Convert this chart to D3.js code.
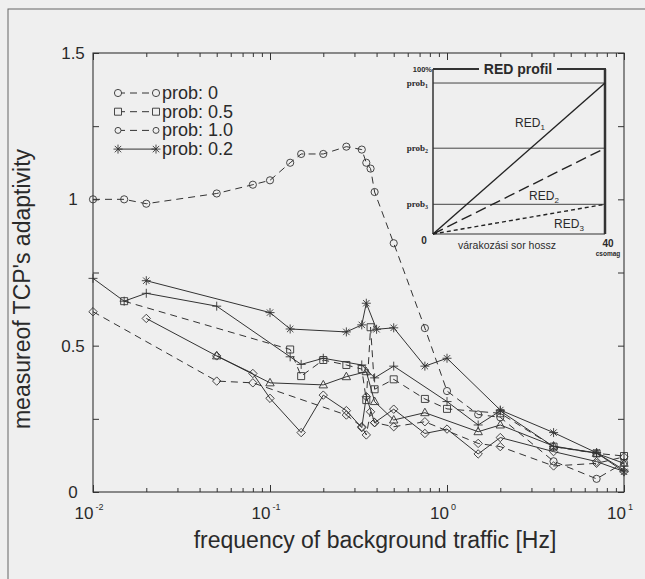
<!DOCTYPE html>
<html>
<head>
<meta charset="utf-8">
<script src="https://cdnjs.cloudflare.com/ajax/libs/d3/7.8.5/d3.min.js"></script>
<style>
    body { margin: 0; background: #efefef; }
    svg { display: block; font-family: "Liberation Sans", Arial, sans-serif; }
</style>
</head>
<body>
<svg id="chart" width="645" height="579"></svg>
<script>
// axis ticks
const xMajorTicks = [0.01, 0.1, 1, 10];
const xMajorExp = ["-2", "-1", "0", "1"];
const yTicks = [0, 0.25, 0.5, 0.75, 1, 1.25, 1.5];
const yLabelTicks = [0, 0.5, 1, 1.5];
const yLabelTexts = ["0", "0.5", "1", "1.5"];

// series (frequency in Hz, adaptivity measure)
const prob0Freq = [0.01, 0.015, 0.02, 0.05, 0.08, 0.1, 0.13, 0.15, 0.2, 0.27, 0.33, 0.35, 0.37, 0.39, 0.5, 0.75, 1.0, 1.5, 2, 4, 7, 10];
const prob0Val  = [1.0, 1.0, 0.985, 1.02, 1.05, 1.065, 1.125, 1.155, 1.155, 1.18, 1.17, 1.125, 1.105, 1.025, 0.85, 0.56, 0.345, 0.265, 0.255, 0.105, 0.045, 0.1];

const prob05Freq = [0.015, 0.13, 0.15, 0.2, 0.27, 0.33, 0.35, 0.37, 0.39, 0.5, 0.75, 1.0, 2, 4, 7, 10];
const prob05Val  = [0.652, 0.487, 0.396, 0.451, 0.434, 0.42, 0.314, 0.563, 0.351, 0.385, 0.318, 0.284, 0.269, 0.155, 0.132, 0.123];

const prob10Freq = [0.01, 0.05, 0.08, 0.27, 0.33, 0.35, 0.37, 0.39, 0.5, 0.75, 1.5, 2, 4, 7, 10];
const prob10Val  = [0.616, 0.379, 0.373, 0.263, 0.223, 0.195, 0.274, 0.237, 0.223, 0.24, 0.166, 0.155, 0.089, 0.098, 0.12];

const prob02Freq = [0.02, 0.1, 0.13, 0.27, 0.33, 0.35, 0.4, 0.5, 0.75, 1.0, 2, 4, 7, 10];
const prob02Val  = [0.722, 0.613, 0.557, 0.547, 0.571, 0.645, 0.556, 0.561, 0.43, 0.457, 0.28, 0.203, 0.134, 0.069];

const plusFreq = [0.01, 0.015, 0.02, 0.05, 0.13, 0.15, 0.2, 0.33, 0.39, 0.5, 1.0, 1.5, 2, 4, 7, 10];
const plusVal  = [0.73, 0.652, 0.679, 0.635, 0.462, 0.436, 0.457, 0.434, 0.39, 0.43, 0.309, 0.229, 0.277, 0.155, 0.134, 0.075];

const triFreq = [0.05, 0.1, 0.2, 0.27, 0.35, 0.39, 0.5, 0.75, 1.5, 2, 4, 7, 10];
const triVal  = [0.465, 0.373, 0.366, 0.394, 0.411, 0.309, 0.246, 0.271, 0.206, 0.229, 0.157, 0.132, 0.098];

const diaFreq = [0.02, 0.05, 0.08, 0.1, 0.15, 0.2, 0.27, 0.33, 0.35, 0.39, 0.5, 0.75, 1.0, 1.5, 2, 4, 7, 10];
const diaVal  = [0.593, 0.465, 0.405, 0.32, 0.203, 0.331, 0.278, 0.22, 0.326, 0.237, 0.283, 0.2, 0.215, 0.13, 0.186, 0.138, 0.104, 0.07];

const legendLabels = ["prob: 0", "prob: 0.5", "prob: 1.0", "prob: 0.2"];

// inset: RED profile
const insetQueueMax = 40;
const insetLevels = [91.5, 52, 18];          // drop probability (%) at full queue
const insetLevelNames = ["1", "2", "3"];
const insetCurveNames = ["1", "2", "3"];

const ink = "#333";
const svg = d3.select("#chart");

const x = d3.scaleLog().domain([0.01, 10]).range([93, 624]);
const y = d3.scaleLinear().domain([0, 1.5]).range([492, 53]);

// outer frame of the scanned page
svg.append("rect").attr("x", 8).attr("y", 9).attr("width", 700).attr("height", 700)
    .attr("fill", "none").attr("stroke", "#666").attr("stroke-width", 1);

// axes box and ticks
const minorX = [];
for (let e = -2; e < 1; e++) for (let k = 2; k <= 9; k++) minorX.push(k * Math.pow(10, e));

const gAxes = svg.append("g").attr("stroke", ink).attr("fill", "none");
gAxes.append("rect").attr("x", x(0.01)).attr("y", y(1.5))
    .attr("width", x(10) - x(0.01)).attr("height", y(0) - y(1.5)).attr("stroke-width", 1.1);

gAxes.append("g").attr("transform", `translate(0,${y(0)})`)
    .call(d3.axisBottom(x).tickValues(minorX).tickSize(-4).tickFormat(""));
gAxes.append("g").attr("transform", `translate(0,${y(0)})`)
    .call(d3.axisBottom(x).tickValues(xMajorTicks).tickSize(-7).tickFormat(""));
gAxes.append("g").attr("transform", `translate(0,${y(1.5)})`)
    .call(d3.axisTop(x).tickValues(minorX).tickSize(-4).tickFormat(""));
gAxes.append("g").attr("transform", `translate(0,${y(1.5)})`)
    .call(d3.axisTop(x).tickValues(xMajorTicks).tickSize(-7).tickFormat(""));
gAxes.append("g").attr("transform", `translate(${x(0.01)},0)`)
    .call(d3.axisLeft(y).tickValues(yTicks).tickSize(-6).tickFormat(""));
gAxes.append("g").attr("transform", `translate(${x(10)},0)`)
    .call(d3.axisRight(y).tickValues(yTicks).tickSize(-6).tickFormat(""));
gAxes.selectAll(".domain").remove();
gAxes.selectAll(".tick line").attr("stroke", ink);

// tick labels
const txt = "#2a2a2a";
yLabelTicks.forEach((v, i) => {
    svg.append("text").attr("x", 73).attr("y", y(v) + 6)
        .attr("text-anchor", "middle").attr("font-size", 17).attr("fill", txt)
        .text(yLabelTexts[i]);
});
xMajorTicks.forEach((v, i) => {
    const t = svg.append("text").attr("x", x(v) - 4).attr("y", 519)
        .attr("text-anchor", "middle").attr("font-size", 17).attr("fill", txt);
    t.append("tspan").text("10");
    t.append("tspan").attr("dy", -9).attr("dx", 2).attr("font-size", 9).text(xMajorExp[i]);
});

svg.append("text").attr("x", 375).attr("y", 548).attr("text-anchor", "middle")
    .attr("font-size", 23).attr("fill", txt).text("frequency of background traffic [Hz]");
svg.append("text").attr("transform", "translate(30,289) rotate(-90)").attr("text-anchor", "middle")
    .attr("font-size", 23).attr("fill", txt).text("measureof TCP's adaptivity");

// markers
const markerPath = {
    circle: "M3.6,0A3.6,3.6 0 1,1 -3.6,0A3.6,3.6 0 1,1 3.6,0Z",
    smallCircle: "M3,0A3,3 0 1,1 -3,0A3,3 0 1,1 3,0Z",
    square: "M-3.5,-3.5H3.5V3.5H-3.5Z",
    diamond: "M0,-4.2L4.2,0L0,4.2L-4.2,0Z",
    triangle: "M0,-4.5L4.2,3L-4.2,3Z",
    plus: "M-4.5,0H4.5M0,-4.5V4.5",
    star: "M-4.5,0H4.5M0,-4.5V4.5M-3.2,-3.2L3.2,3.2M-3.2,3.2L3.2,-3.2"
};

const series = [
    { freq: prob0Freq,  val: prob0Val,  marker: "circle",   dash: "7,5" },
    { freq: prob05Freq, val: prob05Val, marker: "square",   dash: "7,5" },
    { freq: prob10Freq, val: prob10Val, marker: "diamond",  dash: "7,5" },
    { freq: prob02Freq, val: prob02Val, marker: "star",     dash: null },
    { freq: plusFreq,   val: plusVal,   marker: "plus",     dash: null },
    { freq: triFreq,    val: triVal,    marker: "triangle", dash: null },
    { freq: diaFreq,    val: diaVal,    marker: "diamond",  dash: null }
];

const line = d3.line().x(d => x(d[0])).y(d => y(d[1]));
const gData = svg.append("g");
series.forEach(s => {
    const pts = s.freq.map((f, i) => [f, s.val[i]]);
    gData.append("path").attr("d", line(pts)).attr("fill", "none")
        .attr("stroke", ink).attr("stroke-width", 1)
        .attr("stroke-dasharray", s.dash);
    gData.selectAll(null).data(pts).join("path")
        .attr("transform", d => `translate(${x(d[0])},${y(d[1])})`)
        .attr("d", markerPath[s.marker])
        .attr("fill", "none").attr("stroke", ink).attr("stroke-width", 0.9);
});

// legend
const legendMarkers = ["circle", "square", "smallCircle", "star"];
const legendDash = ["7,5", "7,5", "7,5", null];
legendLabels.forEach((lab, i) => {
    const ly = 93 + i * 18.7;
    const g = svg.append("g");
    g.append("line").attr("x1", 118).attr("x2", 156).attr("y1", ly).attr("y2", ly)
        .attr("stroke", ink).attr("stroke-dasharray", legendDash[i]);
    [118, 156].forEach(mx => g.append("path").attr("d", markerPath[legendMarkers[i]])
        .attr("transform", `translate(${mx},${ly})`).attr("fill", "#efefef")
        .attr("stroke", ink).attr("stroke-width", 0.9));
    g.append("text").attr("x", 162).attr("y", ly + 6).attr("font-size", 18).attr("fill", txt).text(lab);
});

// inset: RED profile
const ix = d3.scaleLinear().domain([0, insetQueueMax]).range([433, 605]);
const iy = d3.scaleLinear().domain([0, 100]).range([234, 69]);
const gIn = svg.append("g");

insetLevels.forEach((lv, i) => {
    gIn.append("line").attr("x1", ix(0)).attr("x2", ix(insetQueueMax)).attr("y1", iy(lv)).attr("y2", iy(lv))
        .attr("stroke", "#444").attr("stroke-width", 1);
    const t = gIn.append("text").attr("x", 428).attr("y", iy(lv) + 3).attr("text-anchor", "end")
        .attr("font-family", "'Liberation Serif', serif").attr("font-weight", "bold")
        .attr("font-size", 9).attr("fill", txt);
    t.append("tspan").text("prob");
    t.append("tspan").attr("dy", 2).attr("font-size", 6).text(insetLevelNames[i]);
});

// frame of inset
gIn.append("line").attr("x1", ix(0)).attr("x2", ix(0)).attr("y1", iy(100)).attr("y2", iy(0))
    .attr("stroke", ink).attr("stroke-width", 1.5);
gIn.append("line").attr("x1", ix(0)).attr("x2", ix(insetQueueMax)).attr("y1", iy(0)).attr("y2", iy(0))
    .attr("stroke", ink).attr("stroke-width", 1.2);
gIn.append("line").attr("x1", ix(insetQueueMax)).attr("x2", ix(insetQueueMax)).attr("y1", iy(100)).attr("y2", iy(0))
    .attr("stroke", ink).attr("stroke-width", 2.5);
gIn.append("line").attr("x1", ix(0)).attr("x2", 479).attr("y1", iy(100)).attr("y2", iy(100))
    .attr("stroke", ink).attr("stroke-width", 2);
gIn.append("line").attr("x1", 557).attr("x2", ix(insetQueueMax) + 1).attr("y1", iy(100)).attr("y2", iy(100))
    .attr("stroke", ink).attr("stroke-width", 2);
gIn.append("text").attr("x", 518).attr("y", iy(100) + 5).attr("text-anchor", "middle")
    .attr("font-weight", "bold").attr("font-size", 14).attr("fill", txt).text("RED profil");

// profile curves
const curveDash = [null, "11,5", "4,3"];
const curveLabelPos = [[530, 127], [544, 200], [569, 228]];
insetLevels.forEach((lv, i) => {
    gIn.append("line").attr("x1", ix(0)).attr("y1", iy(0)).attr("x2", ix(insetQueueMax)).attr("y2", iy(lv))
        .attr("stroke", "#222").attr("stroke-width", 1.4).attr("stroke-dasharray", curveDash[i]);
    const t = gIn.append("text").attr("x", curveLabelPos[i][0]).attr("y", curveLabelPos[i][1])
        .attr("text-anchor", "middle").attr("font-size", 12).attr("fill", txt);
    t.append("tspan").text("RED");
    t.append("tspan").attr("dy", 3).attr("font-size", 8).text(insetCurveNames[i]);
});

gIn.append("text").attr("x", 432).attr("y", iy(100) + 3).attr("text-anchor", "end")
    .attr("font-weight", "bold").attr("font-size", 7.5).attr("fill", txt).text("100%");
gIn.append("text").attr("x", 424).attr("y", 244).attr("text-anchor", "middle")
    .attr("font-weight", "bold").attr("font-size", 10).attr("fill", txt).text("0");
gIn.append("text").attr("x", 507).attr("y", 249).attr("text-anchor", "middle")
    .attr("font-size", 10.5).attr("fill", txt).text("várakozási sor hossz");
gIn.append("text").attr("x", ix(insetQueueMax) + 3).attr("y", 247).attr("text-anchor", "middle")
    .attr("font-weight", "bold").attr("font-size", 10).attr("fill", txt).text(insetQueueMax);
gIn.append("text").attr("x", ix(insetQueueMax) + 3).attr("y", 256).attr("text-anchor", "middle")
    .attr("font-weight", "bold").attr("font-size", 6.5).attr("fill", txt).text("csomag");
</script>
</body>
</html>
